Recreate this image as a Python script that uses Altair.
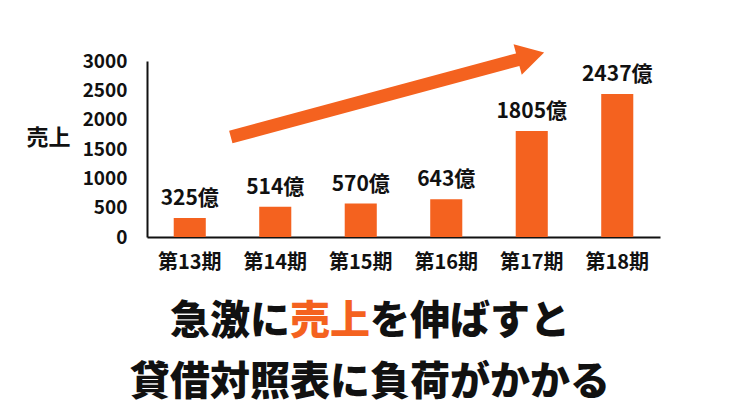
import altair as alt
import pandas as pd

ORANGE = "#F4621F"
INK = "#111111"
FONT = "Noto Sans CJK JP"

# ---- data ----
periods = ["第13期", "第14期", "第15期", "第16期", "第17期", "第18期"]
sales = [325, 514, 570, 643, 1805, 2437]
labels = ["325億", "514億", "570億", "643億", "1805億", "2437億"]
y_ticks = [0, 500, 1000, 1500, 2000, 2500, 3000]
y_title = "売上"

# arrow annotation (x in period-index units, y in sales units)
arrow_x = [0.98, 4.39]
arrow_y = [1705, 3043]
head_x = [4.49]
head_y = [3085]

line1_parts = ["急激に", "売上", "を伸ばすと"]
line2_text = "貸借対照表に負荷がかかる"

df = pd.DataFrame({"period": periods, "sales": sales, "label": labels})
arrow_df = pd.DataFrame({"ax": arrow_x, "ay": arrow_y})
head_df = pd.DataFrame({"hx": head_x, "hy": head_y})

yscale = alt.Scale(domain=[0, 3000], nice=False)
xband = alt.Scale(paddingInner=0.625, paddingOuter=0.3125)

y_axis = alt.Axis(
    values=y_ticks, format="d", title=y_title, titleAngle=0, titleX=-99, titleY=76,
    titleAlign="center", titleBaseline="middle", titleFontSize=22,
    titleFontWeight="bold", titleColor=INK, titleFont=FONT,
    ticks=False, labelPadding=20, labelFontSize=19, labelFontWeight="bold",
    labelColor=INK, labelFont=FONT, domainColor=INK, domainWidth=2, grid=False,
)
x_axis = alt.Axis(
    title=None, labelAngle=0, ticks=False, labelPadding=15,
    labelFontSize=20, labelFontWeight="bold", labelColor=INK, labelFont=FONT,
    domainColor=INK, domainWidth=2, grid=False,
)

bars = alt.Chart(df).mark_bar(color=ORANGE).encode(
    x=alt.X("period:N", sort=periods, scale=xband, axis=x_axis),
    y=alt.Y("sales:Q", scale=yscale, axis=y_axis),
)

bar_text = alt.Chart(df).mark_text(
    dy=-13, baseline="alphabetic", fontSize=21, fontWeight="bold", font=FONT, color=INK
).encode(
    x=alt.X("period:N", sort=periods, scale=xband, axis=None),
    y=alt.Y("sales:Q", scale=yscale, axis=y_axis),
    text="label:N",
)

ax_scale = alt.Scale(domain=[0, 6])
shaft = alt.Chart(arrow_df).mark_line(
    color=ORANGE, strokeWidth=13, strokeCap="butt", clip=False
).encode(
    x=alt.X("ax:Q", scale=ax_scale, axis=None),
    y=alt.Y("ay:Q", scale=yscale, axis=y_axis),
)
head = alt.Chart(head_df).mark_point(
    shape="triangle-right", size=1000, filled=True, opacity=1,
    color=ORANGE, angle=345, clip=False
).encode(
    x=alt.X("hx:Q", scale=ax_scale, axis=None),
    y=alt.Y("hy:Q", scale=yscale, axis=y_axis),
)

def title_piece(text, xpos, ypos, color, align):
    return alt.Chart(pd.DataFrame({"t": [text]})).mark_text(
        fontSize=40, fontWeight=900, font=FONT, color=color,
        align=align, baseline="middle"
    ).encode(x=alt.value(xpos), y=alt.value(ypos), text="t:N")

t1 = title_piece(line1_parts[0], 23, 261, INK, "left")
t2 = title_piece(line1_parts[1], 143, 261, ORANGE, "left")
t3 = title_piece(line1_parts[2], 223, 261, INK, "left")
t4 = title_piece(line2_text, 223, 322, INK, "center")

chart = alt.layer(bars, bar_text, shaft, head, t1, t2, t3, t4).resolve_scale(
    x="independent"
).properties(
    width=513, height=176,
    padding={"left": 139, "top": 53, "right": 82, "bottom": 174},
    autosize=alt.AutoSizeParams(type="none"),
    background="white",
).configure_view(stroke=None)

chart.save("out.html", embed_options={"renderer": "svg", "actions": False})
